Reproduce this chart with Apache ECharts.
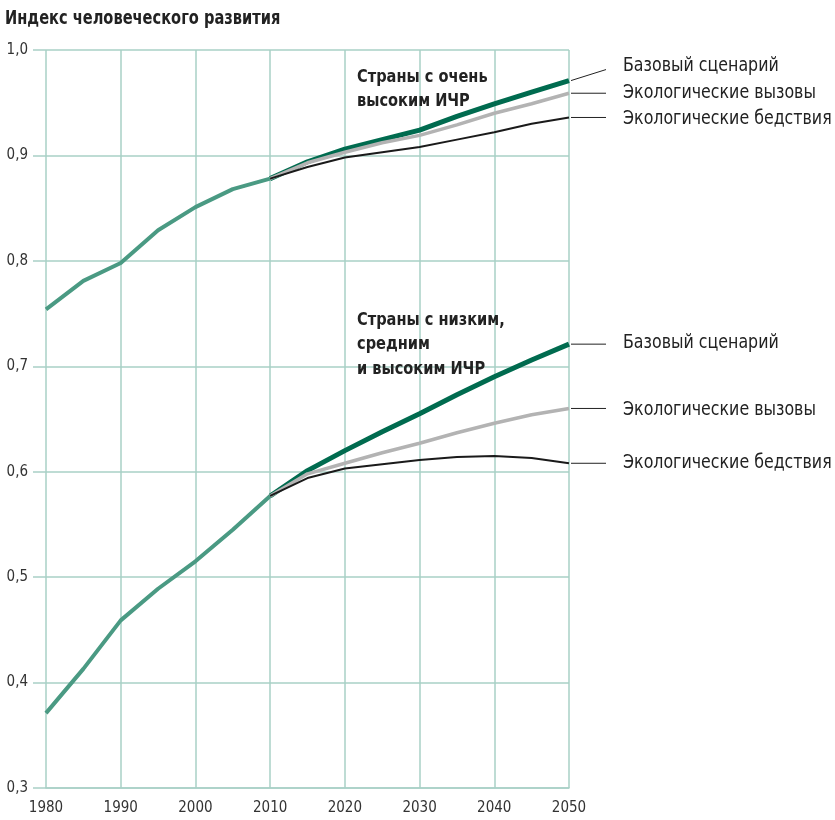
<!DOCTYPE html>
<html><head><meta charset="utf-8">
<script src="https://cdn.jsdelivr.net/npm/echarts@6/dist/echarts.min.js"></script>
<style>html,body{margin:0;padding:0;background:#fff}#c{width:835px;height:820px}</style>
</head><body><div id="c"></div>
<script>
var histYears = [1980, 1985, 1990, 1995, 2000, 2005, 2010];
var scenYears = [2010, 2015, 2020, 2025, 2030, 2035, 2040, 2045, 2050];

var vhHist = [0.754, 0.781, 0.798, 0.829, 0.851, 0.868, 0.878];
var lowHist = [0.371, 0.413, 0.459, 0.489, 0.515, 0.545, 0.577];

var vhBase = [0.878, 0.894, 0.906, 0.915, 0.924, 0.937, 0.949, 0.960, 0.971];
var vhChallenge = [0.878, 0.893, 0.903, 0.912, 0.919, 0.929, 0.940, 0.949, 0.959];
var vhDisaster = [0.878, 0.889, 0.898, 0.903, 0.908, 0.915, 0.922, 0.930, 0.936];

var lowBase = [0.577, 0.601, 0.620, 0.638, 0.655, 0.673, 0.690, 0.706, 0.721];
var lowChallenge = [0.577, 0.598, 0.608, 0.618, 0.627, 0.637, 0.646, 0.654, 0.660];
var lowDisaster = [0.577, 0.594, 0.603, 0.607, 0.611, 0.614, 0.615, 0.613, 0.608];

var scenarioNames = ['Базовый сценарий', 'Экологические вызовы', 'Экологические бедствия'];
var title = 'Индекс человеческого развития';
var noteTop = ['Страны с очень', 'высоким ИЧР'];
var noteLow = ['Страны с низким,', 'средним', 'и высоким ИЧР'];

var FONT = "'Liberation Sans Narrow', 'DejaVu Sans Condensed', 'Roboto', sans-serif";
var GRID = '#a9d0c6';
var C_HIST = '#4a9a83';
var C_BASE = '#006b4f';
var C_CHAL = '#b3b3b3';
var C_DIS = '#1a1a1a';

function pairs(xs, ys) { return xs.map(function (x, i) { return [x, ys[i]]; }); }
function line(name, xs, ys, color, width, z) {
  return { name: name, type: 'line', data: pairs(xs, ys), symbol: 'none', smooth: false,
    lineStyle: { color: color, width: width, cap: 'butt', join: 'round' }, z: z, silent: true, animation: false };
}

var chart = echarts.init(document.getElementById('c'));
chart.setOption({
  animation: false,
  grid: { left: 46, right: 266, top: 50, bottom: 32 },
  xAxis: {
    type: 'value', min: 1980, max: 2050, interval: 10,
    axisLine: { show: true, lineStyle: { color: GRID, width: 1.5 } },
    axisTick: { show: false },
    splitLine: { show: true, lineStyle: { color: GRID, width: 1.5 } },
    axisLabel: { color: '#333', fontFamily: FONT, fontSize: 15, margin: 13, formatter: function (v) { return String(v); } }
  },
  yAxis: {
    type: 'value', min: 0.3, max: 1.0, interval: 0.1,
    axisLine: { show: false },
    axisTick: { show: true, length: 13, lineStyle: { color: GRID, width: 1.5 } },
    splitLine: { show: true, lineStyle: { color: GRID, width: 1.5 } },
    axisLabel: { color: '#333', fontFamily: FONT, fontSize: 15, margin: 18,
      formatter: function (v) { return v.toFixed(1).replace('.', ','); } }
  },
  series: [
    line('hist-vh', histYears, vhHist, C_HIST, 4, 2),
    line('hist-low', histYears, lowHist, C_HIST, 4, 2),
    line('vh-base', scenYears, vhBase, C_BASE, 5, 3),
    line('vh-chal', scenYears, vhChallenge, C_CHAL, 3.5, 4),
    line('vh-dis', scenYears, vhDisaster, C_DIS, 2, 5),
    line('low-base', scenYears, lowBase, C_BASE, 5, 3),
    line('low-chal', scenYears, lowChallenge, C_CHAL, 3.5, 4),
    line('low-dis', scenYears, lowDisaster, C_DIS, 2, 5)
  ]
});

var ends = [
  { v: vhBase[vhBase.length - 1], dy: -15, ld: -11, n: 0 },
  { v: vhChallenge[vhChallenge.length - 1], dy: 0, ld: 0, n: 1 },
  { v: vhDisaster[vhDisaster.length - 1], dy: 1, ld: 0, n: 2 },
  { v: lowBase[lowBase.length - 1], dy: -1, ld: 0, n: 0 },
  { v: lowChallenge[lowChallenge.length - 1], dy: 1, ld: 0, n: 1 },
  { v: lowDisaster[lowDisaster.length - 1], dy: 0, ld: 0, n: 2 }
];
var g = [];
ends.forEach(function (e) {
  var p = chart.convertToPixel({ gridIndex: 0 }, [2050, e.v]);
  g.push({ type: 'line', shape: { x1: p[0] + 2, y1: p[1], x2: 606, y2: p[1] + e.ld },
    style: { stroke: '#222', lineWidth: 1 }, z: 10, silent: true });
  g.push({ type: 'text', x: 623, y: p[1] + e.dy, scaleX: 0.88, style: { text: scenarioNames[e.n], fill: '#222', font: '20px ' + FONT,
    verticalAlign: 'middle' }, z: 10, silent: true });
});
g.push({ type: 'text', x: 5, y: 19, scaleX: 0.855, style: { text: title, fill: '#222', font: 'bold 19px ' + FONT,
  verticalAlign: 'middle' }, z: 10, silent: true });
noteTop.forEach(function (t, i) {
  g.push({ type: 'text', x: 357, y: 77 + i * 24, scaleX: 0.9, style: { text: t, fill: '#222', font: 'bold 18px ' + FONT,
    verticalAlign: 'middle' }, z: 10, silent: true });
});
noteLow.forEach(function (t, i) {
  g.push({ type: 'text', x: 357, y: 320 + i * 24.5, scaleX: 0.9, style: { text: t, fill: '#222', font: 'bold 18px ' + FONT,
    verticalAlign: 'middle' }, z: 10, silent: true });
});
chart.setOption({ graphic: g });
</script>
</body></html>
